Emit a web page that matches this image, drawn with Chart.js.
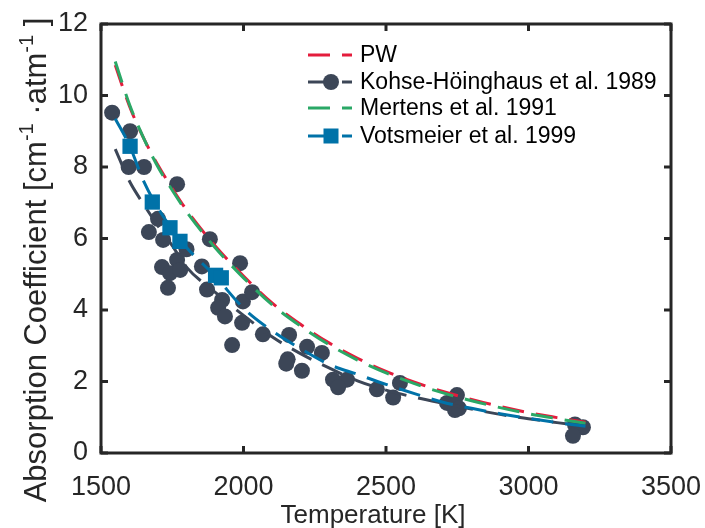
<!DOCTYPE html>
<html><head><meta charset="utf-8">
<script src="https://cdn.jsdelivr.net/npm/chart.js@4.4.0/dist/chart.umd.min.js"></script>
<style>html,body{margin:0;padding:0;background:#fff}</style>
</head><body>
<canvas id="c" width="705" height="528" style="width:705px;height:528px;display:block"></canvas>
<script>
// ---- data ----
const xTicks = [1500, 2000, 2500, 3000, 3500];
const yTicks = [0, 2, 4, 6, 8, 10, 12];
const fitT = [1550,1600,1650,1700,1750,1800,1900,2000,2100,2200,2300,2400,2500,2600,2700,2800,2900,3000,3100,3200];
const pwFit = [10.85,9.7,8.8,8.05,7.4,6.8,5.8,4.95,4.2,3.6,3.08,2.65,2.28,1.98,1.72,1.5,1.3,1.13,0.99,0.86];
const mertensFit = [10.95,9.75,8.8,8.0,7.35,6.75,5.75,4.9,4.15,3.55,3.03,2.6,2.24,1.94,1.68,1.46,1.27,1.1,0.96,0.83];
const kohseFit = [8.5,7.6,6.95,6.35,5.8,5.2,4.5,3.85,3.25,2.78,2.38,2.02,1.76,1.56,1.39,1.23,1.08,0.96,0.85,0.75];
const votsFit = [9.35,8.6,7.6,6.85,6.25,5.75,4.95,4.05,3.42,2.92,2.48,2.2,1.92,1.66,1.42,1.25,1.1,0.97,0.85,0.75];
const kohseT = [1539,1602,1597,1651,1767,1668,1700,1718,1714,1742,1735,1767,1778,1800,1882,1854,1872,1988,1925,1911,1935,1998,2030,1995,2068,1960,2160,2155,2150,2223,2275,2205,2314,2363,2332,2468,2525,2549,2714,2749,2742,2756,3163,3191,3156];
const kohseV = [9.52,9.0,8.0,8.0,7.52,6.18,6.55,5.96,5.2,5.03,4.62,5.4,5.12,5.7,5.98,5.22,4.57,5.31,4.28,4.06,3.82,4.24,4.5,3.64,3.32,3.02,3.3,2.62,2.5,2.97,2.8,2.3,2.05,2.05,1.84,1.78,1.55,1.96,1.4,1.62,1.2,1.25,0.8,0.72,0.48];
const votsT = [1602,1680,1742,1777,1902,1922];
const votsV = [8.58,7.02,6.3,5.92,4.97,4.9];
const labels = ['PW', 'Kohse-Höinghaus et al. 1989', 'Mertens et al. 1991', 'Votsmeier et al. 1999'];

const RED = '#e41c3c', DARK = '#3c4657', GREEN = '#2aa866', BLUE = '#0072a8', INK = '#262626';
const FONT = '"Liberation Sans", Arial, Helvetica, sans-serif';
const pts = (xs, ys) => xs.map((x, i) => ({x, y: ys[i]}));
const DASH = [22, 12];

const lineDs = (label, data, color, order) => ({
  label, data: pts(fitT, data), borderColor: color, borderWidth: 3, borderDash: DASH,
  pointRadius: 0, fill: false, cubicInterpolationMode: 'monotone', order, showLine: true
});

const datasets = [
  lineDs(labels[0], pwFit, RED, 3),
  {label: labels[1] + ' data', data: pts(kohseT, kohseV), showLine: false, pointStyle: 'circle',
   pointRadius: 8, pointBackgroundColor: DARK, pointBorderWidth: 0, borderColor: DARK, order: 5},
  lineDs(labels[1], kohseFit, DARK, 4),
  lineDs(labels[2], mertensFit, GREEN, 2),
  lineDs(labels[3], votsFit, BLUE, 1),
  {label: labels[3] + ' data', data: pts(votsT, votsV), showLine: false, pointStyle: 'rect', rotation: 0,
   pointRadius: 10.8, pointBackgroundColor: BLUE, pointBorderWidth: 0, borderColor: BLUE, order: 0}
];

const legendItems = [
  {label: labels[0], color: RED, marker: null},
  {label: labels[1], color: DARK, marker: 'circle'},
  {label: labels[2], color: GREEN, marker: null},
  {label: labels[3], color: BLUE, marker: 'rect'}
];

const decor = {
  id: 'decor',
  afterDraw(chart) {
    const {ctx, chartArea: a, scales: {x, y}} = chart;
    ctx.save();
    // frame
    ctx.strokeStyle = INK; ctx.lineWidth = 3; ctx.setLineDash([]);
    ctx.strokeRect(a.left, a.top, a.right - a.left, a.bottom - a.top);
    const seg = (x1, y1, x2, y2) => { ctx.beginPath(); ctx.moveTo(x1, y1); ctx.lineTo(x2, y2); ctx.stroke(); };
    xTicks.forEach(v => { const p = x.getPixelForValue(v); seg(p, a.bottom, p, a.bottom - 7); seg(p, a.top, p, a.top + 7); });
    yTicks.forEach(v => { const p = y.getPixelForValue(v); seg(a.left, p, a.left + 7, p); seg(a.right, p, a.right - 7, p); });
    // legend
    const lx0 = 308, lx1 = 352, mx = 331, tx = 360;
    const ys = [55, 82, 108, 136];
    ctx.font = '23px ' + FONT; ctx.textBaseline = 'middle'; ctx.textAlign = 'left';
    legendItems.forEach((it, i) => {
      const yy = ys[i];
      ctx.strokeStyle = it.color; ctx.lineWidth = 3; ctx.setLineDash([22, 12]);
      seg(lx0, yy, lx1, yy);
      ctx.setLineDash([]);
      ctx.fillStyle = it.color;
      if (it.marker === 'circle') { ctx.beginPath(); ctx.arc(mx, yy, 8, 0, Math.PI * 2); ctx.fill(); }
      if (it.marker === 'rect') { ctx.fillRect(mx - 7.5, yy - 7.5, 15, 15); }
      ctx.fillStyle = '#000';
      ctx.fillText(it.label, tx, yy + 1);
    });
    // x title
    ctx.fillStyle = INK; ctx.textAlign = 'center'; ctx.textBaseline = 'alphabetic';
    ctx.font = '26px ' + FONT;
    ctx.fillText('Temperature [K]', 373, 523);
    // y title with superscripts
    const F = 31, S = 20;
    const parts = [
      {t: 'Absorption Coefficient [cm', s: F, r: 0},
      {t: '-1', s: S, r: 13},
      {t: ' \u00B7atm', s: F, r: 0},
      {t: '-1', s: S, r: 13},
      {t: ' ]', s: F, r: 0}
    ];
    let total = 0;
    parts.forEach(p => { ctx.font = p.s + 'px ' + FONT; p.w = ctx.measureText(p.t).width; total += p.w; });
    ctx.translate(46, 260);
    ctx.rotate(-Math.PI / 2);
    ctx.textAlign = 'left';
    let cx = -total / 2;
    parts.forEach(p => { ctx.font = p.s + 'px ' + FONT; ctx.fillText(p.t, cx, -p.r); cx += p.w; });
    ctx.restore();
  }
};

new Chart(document.getElementById('c'), {
  type: 'line',
  data: {datasets},
  options: {
    responsive: false, animation: false, devicePixelRatio: 1,
    layout: {padding: {top: 24, right: 34, left: 0, bottom: 0}},
    plugins: {legend: {display: false}, tooltip: {enabled: false}},
    scales: {
      x: {
        type: 'linear', min: 1500, max: 3500,
        grid: {display: false, drawTicks: false}, border: {display: false},
        afterBuildTicks: s => { s.ticks = xTicks.map(v => ({value: v})); },
        afterFit: s => { s.height = 75; s.paddingLeft = 0; s.paddingRight = 0; },
        ticks: {color: INK, font: {size: 27, family: FONT}, padding: 18, maxRotation: 0, autoSkip: false,
                callback: v => String(v)}
      },
      y: {
        type: 'linear', min: 0, max: 12,
        grid: {display: false, drawTicks: false}, border: {display: false},
        afterBuildTicks: s => { s.ticks = yTicks.map(v => ({value: v})); },
        afterFit: s => { s.width = 101; s.paddingTop = 0; s.paddingBottom = 0; },
        ticks: {color: INK, font: {size: 27, family: FONT}, padding: 13, autoSkip: false,
                callback: v => String(v)}
      }
    }
  },
  plugins: [decor]
});
</script>
</body></html>
